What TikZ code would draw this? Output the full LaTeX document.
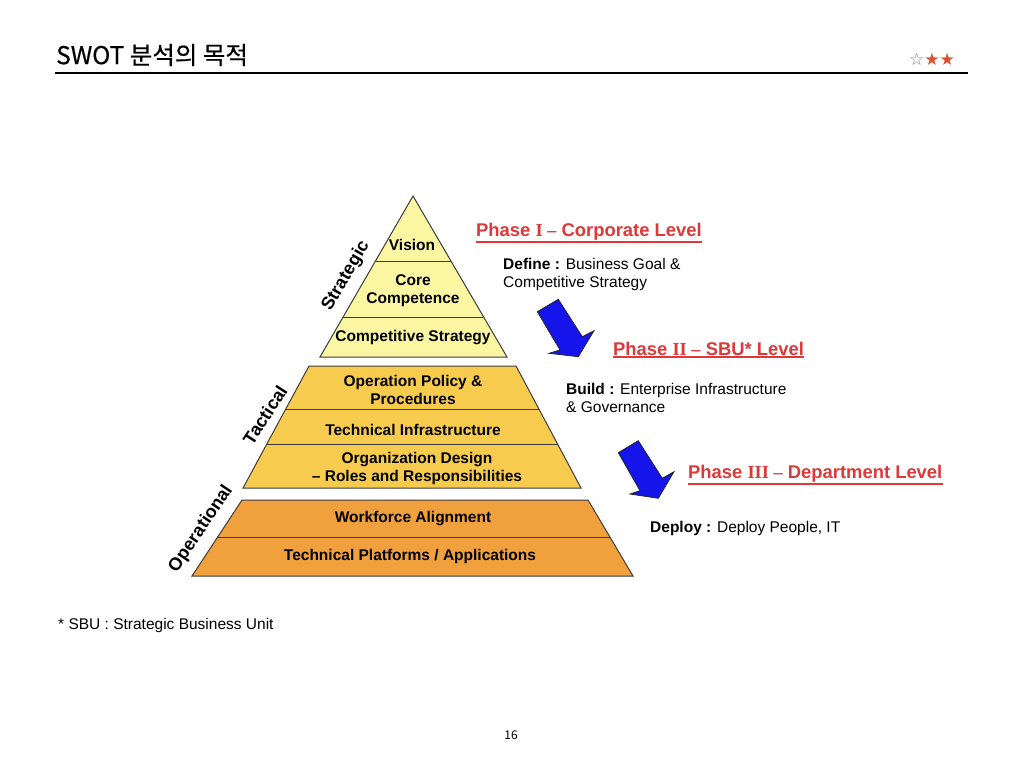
\documentclass[tikz,border=0pt]{standalone}
\usepackage{fontspec}
\setmainfont{Liberation Sans}
\newfontfamily\tnr{Liberation Serif}
\newfontfamily\krfont[FakeBold=0.5]{Noto Sans CJK KR}
\newfontfamily\krplain{Noto Sans CJK KR}
\newfontfamily\symfont{DejaVu Sans}
\definecolor{paleyel}{RGB}{250,246,162}
\definecolor{goldyel}{RGB}{247,204,78}
\definecolor{orng}{RGB}{240,160,60}
\definecolor{edgegray}{RGB}{60,60,60}
\definecolor{phasered}{RGB}{222,56,56}
\definecolor{arrowblue}{RGB}{20,20,235}
\definecolor{starred}{RGB}{222,80,45}
\begin{document}
\begin{tikzpicture}[x=1pt,y=-1pt,
  lbl/.style={font=\fontsize{15.5}{18}\selectfont\bfseries, align=center, inner sep=0pt},
  sidelbl/.style={font=\fontsize{18}{20}\selectfont\bfseries, inner sep=0pt},
  phase/.style={font=\fontsize{18.4}{20}\selectfont\bfseries, text=phasered, anchor=west, inner sep=0pt},
  uline/.style={draw=phasered, line width=1.6pt},
  desc/.style={font=\fontsize{15.5}{18}\selectfont, align=left, anchor=west, inner sep=0pt},
  layer/.style={draw=edgegray, line width=1pt, line join=miter},
  sep/.style={draw=edgegray, line width=1pt},
  bluearrow/.style={fill=arrowblue, draw=black!85, line width=0.8pt, line join=miter}]
\useasboundingbox (0,0) rectangle (1024,768);

% title
\node[anchor=west, inner sep=0pt, font=\krfont\fontsize{24.5}{26}\selectfont] (title) at (56,55) {SWOT 분석의 목적};
\coordinate (ruleL) at (55,73);
\coordinate (ruleR) at (968,73);
\draw[line width=2pt] (ruleL) -- (ruleR);
\node[anchor=east, inner sep=0pt, font=\symfont\fontsize{17}{17}\selectfont] (stars) at (955,59) {\textcolor{gray}{☆}\textcolor{starred}{★★}};

% strategic triangle
\path[layer, fill=paleyel] (413,196) -- (507,357) -- (320,357) -- cycle;
\draw[sep] (375.5,261) -- (450.5,261);
\draw[sep] (343,317) -- (483,317);

% tactical trapezoid
\path[layer, fill=goldyel] (309,366) -- (516,366) -- (581,488) -- (243,488) -- cycle;
\draw[sep] (285.7,409) -- (539.3,409);
\draw[sep] (266.8,444) -- (558.2,444);

% operational trapezoid
\path[layer, fill=orng] (242,500) -- (588,500) -- (633,576) -- (192,576) -- cycle;
\draw[sep] (217.7,537) -- (609.9,537);

% layer labels
\node[lbl] (vision) at (412,245) {Vision};
\node[lbl] (core) at (413,291) {Core\\Competence};
\node[lbl] (compstrat) at (413,338) {Competitive Strategy};
\node[lbl] (oppol) at (413,390) {Operation Policy \&\\Procedures};
\node[lbl] (techinf) at (413,430) {Technical Infrastructure};
\node[lbl] (orgdes) at (417,468) {Organization Design\\– Roles and Responsibilities};
\node[lbl] (workf) at (413,519) {Workforce Alignment};
\node[lbl] (techplat) at (410,556) {Technical Platforms / Applications};

% side labels
\node[sidelbl, rotate=60] (strategic) at (346,276) {Strategic};
\node[sidelbl, rotate=57] (tactical) at (265,415) {Tactical};
\node[sidelbl, rotate=56] (operational) at (201,529) {Operational};

% phases
\node[phase] (ph1) at (476,232) {Phase {\tnr I –} Corporate Level};
\draw[uline] ([yshift=-1pt]ph1.south west) -- ([yshift=-1pt]ph1.south east);
\node[desc] (def) at (503,274) {\textbf{Define :} Business Goal \&\\Competitive Strategy};
\node[phase] (ph2) at (613,349) {Phase {\tnr II –} SBU* Level};
\draw[uline] ([yshift=-1pt]ph2.south west) -- ([yshift=-1pt]ph2.south east);
\node[desc] (build) at (566,398) {\textbf{Build :} Enterprise Infrastructure\\\& Governance};
\node[phase] (ph3) at (688,474) {Phase {\tnr III –} Department Level};
\draw[uline] ([yshift=-1pt]ph3.south west) -- ([yshift=-1pt]ph3.south east);
\node[desc] (deploy) at (650,528) {\textbf{Deploy :} Deploy People, IT};

% blue arrows
\path[bluearrow] (537.3,311.7) -- (558.3,299.3) -- (582.3,336.7) -- (594,330.7) -- (578.3,356.7) -- (549,353.3) -- (560,350) -- cycle;
\path[bluearrow] (618.3,452.7) -- (638.3,440.7) -- (662.3,478.3) -- (674,471.7) -- (658.3,498.3) -- (630,494) -- (640,490.7) -- cycle;

% footnote and page number
\node[desc] (foot) at (58,625) {* SBU : Strategic Business Unit};
\node[inner sep=0pt, font=\krplain\fontsize{12}{12}\selectfont] (pagenum) at (511,735) {16};
\end{tikzpicture}
\end{document}
